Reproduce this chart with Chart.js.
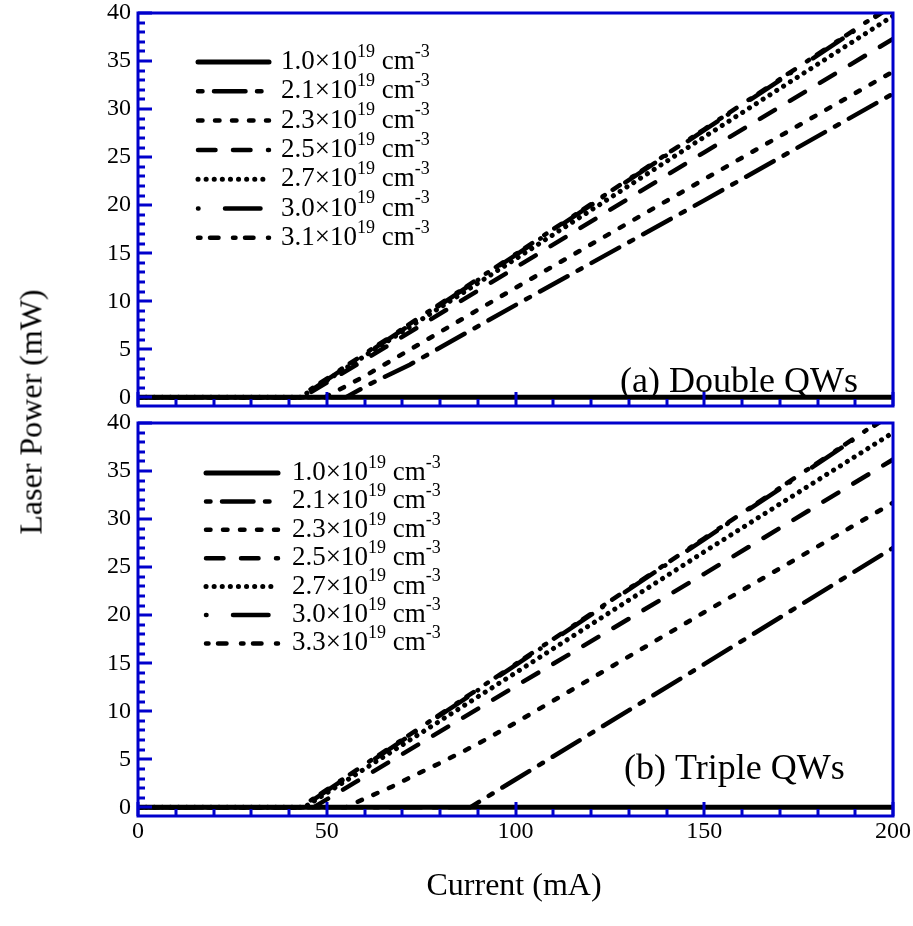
<!DOCTYPE html>
<html>
<head>
<meta charset="utf-8">
<script src="https://cdn.jsdelivr.net/npm/chart.js@4.4.1/dist/chart.umd.min.js"></script>
<style>
  body { margin: 0; background: #fff; width: 913px; height: 926px; position: relative; overflow: hidden; font-family: "Liberation Serif", serif; }
  #wrapA { position: absolute; left: 0; top: 0; width: 913px; height: 410px; }
  #wrapB { position: absolute; left: 0; top: 410px; width: 913px; height: 516px; }
  .ytitle { position: absolute; left: 31px; top: 412px; transform: translate(-50%, -50%) rotate(-90deg); font-size: 32px; white-space: nowrap; }
  .xtitle { position: absolute; left: 514px; top: 884px; transform: translate(-50%, -50%); font-size: 32px; white-space: nowrap; }
</style>
</head>
<body>
<div id="wrapA"><canvas id="chartA" width="913" height="410"></canvas></div>
<div id="wrapB"><canvas id="chartB" width="913" height="516"></canvas></div>
<div class="ytitle">Laser Power (mW)</div>
<div class="xtitle">Current (mA)</div>
<script>
// (a) Double QWs : doping (x10^19 cm^-3), current (mA), power (mW)
const dopingA = ['1.0', '2.1', '2.3', '2.5', '2.7', '3.0', '3.1'];
const currentA = [
  [0, 200],
  [0, 55, 62, 72, 100, 150, 200],
  [0, 49.5, 60, 100, 150, 200],
  [0, 43.5, 60, 100, 150, 200],
  [0, 43, 100, 150, 200],
  [0, 43, 100, 150, 200],
  [0, 42.5, 100, 150, 200]
];
const powerA = [
  [0, 0],
  [0, 0, 1.5, 3.4, 9.6, 20.5, 31.6],
  [0, 0, 2.2, 11.4, 22.7, 33.9],
  [0, 0, 3.9, 13.5, 25.5, 37.3],
  [0, 0, 14.4, 27.1, 39.7],
  [0, 0, 14.8, 27.8, 40.8],
  [0, 0, 14.9, 27.9, 40.9]
];

// (b) Triple QWs
const dopingB = ['1.0', '2.1', '2.3', '2.5', '2.7', '3.0', '3.3'];
const currentB = [
  [0, 200],
  [0, 88, 95, 100, 150, 200],
  [0, 55, 60, 67, 72, 81, 90, 100, 150, 200],
  [0, 46.5, 57.5, 100, 150, 200],
  [0, 44, 100, 150, 200],
  [0, 43.4, 100, 150, 200],
  [0, 43, 100, 150, 200]
];
const powerB = [
  [0, 0],
  [0, 0, 1.7, 2.9, 14.9, 27.0],
  [0, 0, 0.9, 2.1, 3.1, 4.8, 6.6, 8.8, 20.3, 31.7],
  [0, 0, 2.6, 12.6, 24.3, 36.2],
  [0, 0, 14.0, 26.6, 39.0],
  [0, 0, 14.8, 27.9, 41.0],
  [0, 0, 14.9, 28.0, 41.1]
];

const xTicks = [0, 50, 100, 150, 200];
const yTicks = [0, 5, 10, 15, 20, 25, 30, 35, 40];

// line looks, same order as the series
const lineWidths = [5, 4.5, 4.5, 4.5, 5, 4.5, 4.5];
const dashPatterns = [
  [],
  [9, 7, 36, 7],
  [9, 8],
  [22, 13],
  [5, 3],
  [5, 22, 40, 8],
  [7, 5, 13, 10]
];
const FONT = '"Liberation Serif", "Times New Roman", serif';
const BLUE = '#0000cc';

// round caps eat into the gaps, so shorten dashes by the width
function roundDash(p, w) {
  return p.map((v, i) => i % 2 === 0 ? Math.max(v - w, 0.1) : v + w);
}

function buildDatasets(dopings, currents, powers) {
  return dopings.map((d, i) => ({
    label: d,
    data: currents[i].map((c, k) => ({ x: c, y: powers[i][k] })),
    borderColor: '#000',
    borderWidth: lineWidths[i],
    borderDash: dashPatterns[i].length ? roundDash(dashPatterns[i], lineWidths[i]) : [],
    borderCapStyle: 'round',
    pointRadius: 0,
    fill: false,
    tension: 0
  }));
}

const frameTicks = {
  id: 'frameTicks',
  afterDatasetsDraw(chart, args, opts) {
    const { ctx, chartArea: a, scales } = chart;
    ctx.save();
    ctx.strokeStyle = BLUE;
    ctx.lineWidth = 3;
    ctx.beginPath();
    for (let v = 0; v <= 200; v += 10) {
      const px = Math.round(scales.x.getPixelForValue(v));
      const len = v % 50 === 0 ? 14 : 7;
      ctx.moveTo(px, a.bottom);
      ctx.lineTo(px, a.bottom - len);
    }
    for (let v = 0; v <= 40; v++) {
      const py = Math.round(scales.y.getPixelForValue(v));
      const len = v % 5 === 0 ? 14 : 7;
      ctx.moveTo(a.left, py);
      ctx.lineTo(a.left + len, py);
    }
    ctx.stroke();
    ctx.strokeRect(a.left, a.top, a.right - a.left, a.bottom - a.top);

    // panel label
    ctx.fillStyle = '#000';
    ctx.font = '36px ' + FONT;
    ctx.textBaseline = 'middle';
    ctx.textAlign = 'left';
    ctx.fillText(opts.panel, opts.panelX, opts.panelY);

    // legend
    const lg = opts.legend;
    chart.data.datasets.forEach((ds, i) => {
      const y = lg.y0 + i * lg.dy;
      ctx.strokeStyle = '#000';
      ctx.lineWidth = ds.borderWidth;
      ctx.lineCap = 'round';
      ctx.setLineDash(ds.borderDash);
      ctx.beginPath();
      ctx.moveTo(lg.x0, y);
      ctx.lineTo(lg.x1, y);
      ctx.stroke();
      ctx.setLineDash([]);

      let x = lg.tx;
      const parts = [
        [ds.label + '\u00d710', 27, 0],
        ['19', 18, -10],
        [' cm', 27, 0],
        ['-3', 18, -10]
      ];
      parts.forEach(([t, size, dy]) => {
        ctx.font = size + 'px ' + FONT;
        ctx.fillText(t, x, y + dy);
        x += ctx.measureText(t).width;
      });
    });
    ctx.restore();
  }
};

function makeOptions(showX, xHeight, panel, panelX, panelY, legend) {
  return {
    responsive: false,
    animation: false,
    layout: { padding: { left: 78, right: 20, top: 13, bottom: 0 } },
    plugins: {
      legend: { display: false },
      tooltip: { enabled: false },
      frameTicks: { panel, panelX, panelY, legend }
    },
    scales: {
      x: {
        type: 'linear', min: 0, max: 200,
        grid: { display: false, drawTicks: false },
        border: { display: false },
        afterBuildTicks: s => { s.ticks = xTicks.map(v => ({ value: v })); },
        ticks: { display: showX, color: '#000', padding: 4, font: { family: FONT, size: 24, lineHeight: 1 } },
        afterFit: s => { s.height = xHeight; s.paddingLeft = 0; s.paddingRight = 0; }
      },
      y: {
        type: 'linear', min: -0.9, max: 40,
        grid: { display: false, drawTicks: false },
        border: { display: false },
        afterBuildTicks: s => { s.ticks = yTicks.map(v => ({ value: v })); },
        ticks: { color: '#000', padding: 7, font: { family: FONT, size: 24, lineHeight: 1 } },
        afterFit: s => { s.width = 60; s.paddingTop = 0; s.paddingBottom = 0; }
      }
    }
  };
}

new Chart(document.getElementById('chartA'), {
  type: 'line',
  data: { datasets: buildDatasets(dopingA, currentA, powerA) },
  options: makeOptions(false, 4, '(a) Double QWs', 620, 383,
    { x0: 198, x1: 269, tx: 281, y0: 62, dy: 29.3 }),
  plugins: [frameTicks]
});

new Chart(document.getElementById('chartB'), {
  type: 'line',
  data: { datasets: buildDatasets(dopingB, currentB, powerB) },
  options: makeOptions(true, 110, '(b) Triple QWs', 624, 360,
    { x0: 206, x1: 278, tx: 292, y0: 63, dy: 28.4 }),
  plugins: [frameTicks]
});
</script>
</body>
</html>
